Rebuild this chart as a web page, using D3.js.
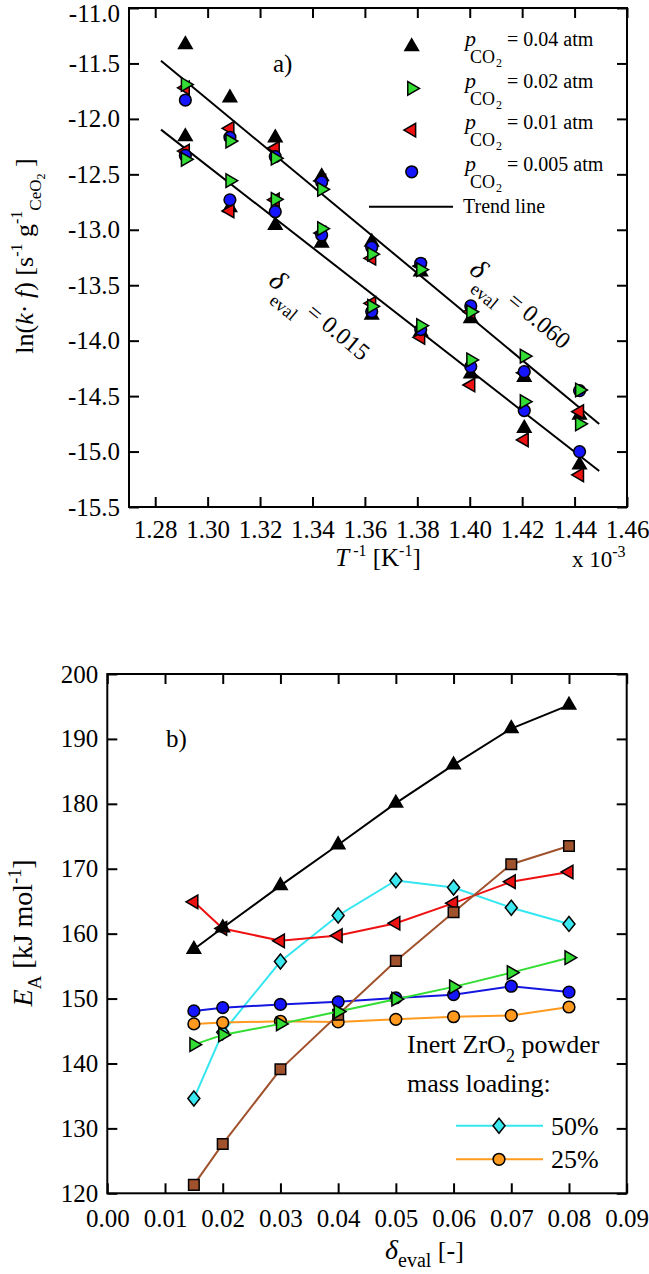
<!DOCTYPE html>
<html><head><meta charset="utf-8">
<script src="https://cdn.jsdelivr.net/npm/d3@7"></script>
<style>
body{margin:0;background:#fff}
svg{display:block}
text{font-family:"Liberation Serif","Times New Roman",serif;fill:#000}
</style>
</head><body>
<svg id="c" width="649" height="1274"></svg>
<script>
// ---------- Panel a data ----------
const invT = [1.2915, 1.3085, 1.3258, 1.3435, 1.3626, 1.3813, 1.4004, 1.4208, 1.4419]; // x 10^-3 K^-1
const pco2Labels = ["0.04", "0.02", "0.01", "0.005"];
// delta_eval = 0.060 (upper group)
const p004_d060 = [-11.33, -11.81, -12.17, -12.52, -13.11, -13.38, -13.80, -14.33, -14.67];
const p002_d060 = [-11.69, -12.20, -12.355, -12.635, -13.22, -13.36, -13.74, -14.14, -14.445];
const p001_d060 = [-11.72, -12.085, -12.265, -12.56, -13.257, -13.327, -13.74, -14.29, -14.64];
const p0005_d060 = [-11.83, -12.166, -12.34, -12.57, -13.158, -13.302, -13.687, -14.28, -14.45];
// delta_eval = 0.015 (lower group)
const p004_d015 = [-12.16, -12.80, -12.96, -13.12, -13.77, -13.92, -14.30, -14.79, -15.12];
const p002_d015 = [-12.365, -12.557, -12.725, -12.99, -13.69, -13.865, -14.174, -14.55, -14.75];
const p001_d015 = [-12.29, -12.83, -12.73, -13.03, -13.663, -13.97, -14.40, -14.895, -15.21];
const p0005_d015 = [-12.33, -12.73, -12.837, -13.047, -13.738, -13.90, -14.234, -14.63, -15.00];
// trend lines (endpoints)
const trendX = [1.2822, 1.4494];
const trend060 = [-11.475, -14.751];
const trend015 = [-12.097, -15.175];
const aXTicks = [1.28, 1.30, 1.32, 1.34, 1.36, 1.38, 1.40, 1.42, 1.44, 1.46];
const aYTicks = [-11.0, -11.5, -12.0, -12.5, -13.0, -13.5, -14.0, -14.5, -15.0, -15.5];

// ---------- Panel b data ----------
const deltaEval = [0.015, 0.02, 0.03, 0.04, 0.05, 0.06, 0.07, 0.08];
const EA_p004 = [157.6, 160.9, 167.4, 173.7, 180.1, 186.0, 191.6, 195.2];
const EA_p001 = [164.9, 160.8, 158.9, 159.7, 161.6, 164.7, 168.0, 169.5];
const EA_zr50 = [134.6, 144.8, 155.7, 162.8, 168.2, 167.1, 164.0, 161.5];
const EA_brown = [121.3, 127.6, 139.1, 147.5, 155.8, 163.3, 170.7, 173.5];
const EA_zr25 = [146.1, 146.3, 146.5, 146.4, 146.8, 147.2, 147.4, 148.7];
const EA_p0005 = [148.1, 148.6, 149.1, 149.5, 150.1, 150.6, 151.9, 151.0];
const EA_p002 = [142.9, 144.4, 146.1, 148.0, 149.9, 151.8, 154.0, 156.3];
const bXTicks = [0, 0.01, 0.02, 0.03, 0.04, 0.05, 0.06, 0.07, 0.08, 0.09];
const bYTicks = [120, 130, 140, 150, 160, 170, 180, 190, 200];

const svg = d3.select("#c");
const SERIF = '"Liberation Serif","Times New Roman",serif';

function markerPath(type) {
  if (type === "up" || type === "left" || type === "right") return d3.symbol(d3.symbolTriangle, 80)();
  if (type === "circle") return d3.symbol(d3.symbolCircle, 108)();
  if (type === "square") return d3.symbol(d3.symbolSquare, 112)();
  if (type === "diamond") return "M0,-7.5L6,0L0,7.5L-6,0Z";
}
function markerRot(type) {
  return type === "right" ? 90 : type === "left" ? -90 : 0;
}
function drawMarker(g, type, fill, cx, cy) {
  g.append("path").attr("d", markerPath(type))
    .attr("transform", `translate(${cx},${cy}) rotate(${markerRot(type)})`)
    .attr("fill", fill).attr("stroke", "#000").attr("stroke-width", 1.5);
}

function drawAxes(g, x, y, W, H, xTicks, yTicks, xFmt, yFmt, xPad) {
  const ax = [];
  ax.push(g.append("g").attr("transform", `translate(0,${H})`)
    .call(d3.axisBottom(x).tickValues(xTicks).tickFormat(xFmt).tickSize(-10).tickPadding(xPad)));
  ax.push(g.append("g").call(d3.axisTop(x).tickValues(xTicks).tickFormat("").tickSize(-10)));
  const left = g.append("g").call(d3.axisLeft(y).tickValues(yTicks).tickFormat(yFmt).tickSize(-10).tickPadding(9));
  ax.push(left);
  ax.push(g.append("g").attr("transform", `translate(${W},0)`)
    .call(d3.axisRight(y).tickValues(yTicks).tickFormat("").tickSize(-10)));
  ax.forEach(a => {
    a.select(".domain").remove();
    a.attr("font-family", SERIF).attr("font-size", 25);
    a.selectAll(".tick line").attr("stroke", "#000").attr("stroke-width", 2);
    a.selectAll(".tick text").attr("fill", "#000");
  });
  g.append("rect").attr("x", 0).attr("y", 0).attr("width", W).attr("height", H)
    .attr("fill", "none").attr("stroke", "#000").attr("stroke-width", 2);
  return left;
}

// ================= Panel a =================
(function () {
  const L = 129, T = 8, W = 498, H = 499;
  const g = svg.append("g").attr("transform", `translate(${L},${T})`);
  const x = d3.scaleLinear().domain([1.27, 1.46]).range([0, W]);
  const y = d3.scaleLinear().domain([-11, -15.5]).range([0, H]);
  const left = drawAxes(g, x, y, W, H, aXTicks, aYTicks, d => d.toFixed(2), d => d.toFixed(1), 13);
  // top label nudged down to stay inside the picture
  left.selectAll(".tick text").filter(d => d === -11).attr("y", 5);

  // trend lines
  const line = d3.line().x(d => x(d[0])).y(d => y(d[1]));
  [trend060, trend015].forEach(tr => {
    g.append("path").attr("d", line(trendX.map((v, i) => [v, tr[i]])))
      .attr("fill", "none").attr("stroke", "#000").attr("stroke-width", 2);
  });

  const series = [
    { type: "up", fill: "#000000", vals: [p004_d060, p004_d015] },
    { type: "left", fill: "#ee1111", vals: [p001_d060, p001_d015] },
    { type: "circle", fill: "#1515ff", vals: [p0005_d060, p0005_d015] },
    { type: "right", fill: "#33dd33", vals: [p002_d060, p002_d015] }
  ];
  series.forEach(s => {
    s.vals.forEach(arr => {
      arr.forEach((v, i) => drawMarker(g, s.type, s.fill, x(invT[i]), y(v)));
    });
  });

  // annotations along trend lines
  const ang = Math.atan2(y(trend060[1]) - y(trend060[0]), x(trendX[1]) - x(trendX[0])) * 180 / Math.PI;
  const annos = [
    { dx: 1.3993, dy: -13.38, val: "0.060" },
    { dx: 1.3227, dy: -13.483, val: "0.015" }
  ];
  annos.forEach(a => {
    const t = g.append("text")
      .attr("transform", `translate(${x(a.dx)},${y(a.dy)}) rotate(${ang})`)
      .attr("font-size", 24);
    t.append("tspan").attr("font-style", "italic").attr("font-size", 28).text("δ");
    t.append("tspan").attr("font-size", 18).attr("dy", 14).text("eval");
    t.append("tspan").attr("dy", -14).attr("dx", 6).text("= " + a.val);
  });

  g.append("text").attr("x", 273 - L).attr("y", 72 - T).attr("font-size", 25).text("a)");
})();

// legend a
(function () {
  const types = ["up", "right", "left", "circle"];
  const fills = ["#000000", "#33dd33", "#ee1111", "#1515ff"];
  pco2Labels.forEach((lab, i) => {
    const cy = 46.7 + i * 41.7;
    drawMarker(svg, types[i], fills[i], 411.7, cy);
    const by = 46 + i * 41.7;
    const t = svg.append("text").attr("x", 465).attr("y", by).attr("font-size", 20);
    t.append("tspan").attr("font-size", 22).attr("font-style", "italic").text("p");
    t.append("tspan").attr("font-size", 18).attr("dx", -6).attr("dy", 17).text("CO");
    t.append("tspan").attr("font-size", 12).attr("dx", 1).attr("dy", 4).text("2");
    t.append("tspan").attr("x", 507).attr("dy", -21).text("= " + lab + " atm");
  });
  svg.append("line").attr("x1", 369).attr("x2", 453).attr("y1", 206.7).attr("y2", 206.7)
    .attr("stroke", "#000").attr("stroke-width", 2);
  svg.append("text").attr("x", 463).attr("y", 213).attr("font-size", 20).text("Trend line");
})();

// axis titles a
(function () {
  const t = svg.append("text").attr("x", 378).attr("y", 566).attr("font-size", 25).attr("text-anchor", "middle");
  t.append("tspan").attr("font-style", "italic").text("T");
  t.append("tspan").attr("font-size", 16).attr("dy", -10).text(" -1");
  t.append("tspan").attr("dy", 10).text(" [K");
  t.append("tspan").attr("font-size", 16).attr("dy", -10).text("-1");
  t.append("tspan").attr("dy", 10).text("]");

  const e = svg.append("text").attr("x", 572).attr("y", 567).attr("font-size", 23);
  e.append("tspan").text("x 10");
  e.append("tspan").attr("font-size", 16).attr("dy", -10).text("-3");

  const yl = svg.append("text").attr("transform", "translate(33,256) rotate(-90)")
    .attr("text-anchor", "middle").attr("font-size", 26);
  yl.append("tspan").text("ln(");
  yl.append("tspan").attr("font-style", "italic").text("k");
  yl.append("tspan").text("· ");
  yl.append("tspan").attr("font-style", "italic").text("f");
  yl.append("tspan").text(") [s");
  yl.append("tspan").attr("font-size", 16).attr("dy", -11).text("-1");
  yl.append("tspan").attr("dy", 11).text(" g");
  yl.append("tspan").attr("font-size", 16).attr("dy", -11).text("-1");
  yl.append("tspan").attr("font-size", 17).attr("dy", 19).text("CeO");
  yl.append("tspan").attr("font-size", 12).attr("dy", 4).text("2");
  yl.append("tspan").attr("dy", -12).text(" ]");
})();

// ================= Panel b =================
(function () {
  const L = 107.3, T = 674, W = 519.4, H = 519.3;
  const g = svg.append("g").attr("transform", `translate(${L},${T})`);
  const x = d3.scaleLinear().domain([0, 0.09]).range([0, W]);
  const y = d3.scaleLinear().domain([120, 200]).range([H, 0]);
  drawAxes(g, x, y, W, H, bXTicks, bYTicks, d => d.toFixed(2), d => d3.format("d")(d), 16);

  const line = d3.line().x((d, i) => x(deltaEval[i])).y(d => y(d));
  const series = [
    { vals: EA_zr50, type: "diamond", fill: "#3ce8f0", stroke: "#33e6f0" },
    { vals: EA_zr25, type: "circle", fill: "#ff9a1e", stroke: "#ff9a1e" },
    { vals: EA_p0005, type: "circle", fill: "#1515ff", stroke: "#1515e0" },
    { vals: EA_p001, type: "left", fill: "#ee1111", stroke: "#ee1111" },
    { vals: EA_brown, type: "square", fill: "#a0522d", stroke: "#a0522d" },
    { vals: EA_p004, type: "up", fill: "#000000", stroke: "#000000" },
    { vals: EA_p002, type: "right", fill: "#33dd33", stroke: "#33dd33" }
  ];
  series.forEach(s => {
    g.append("path").attr("d", line(s.vals)).attr("fill", "none")
      .attr("stroke", s.stroke).attr("stroke-width", 2);
    s.vals.forEach((v, i) => drawMarker(g, s.type, s.fill, x(deltaEval[i]), y(v)));
  });

  g.append("text").attr("x", 166 - L).attr("y", 747 - T).attr("font-size", 25).text("b)");
})();

// legend b
(function () {
  const t1 = svg.append("text").attr("x", 407).attr("y", 1053).attr("font-size", 26);
  t1.append("tspan").text("Inert ZrO");
  t1.append("tspan").attr("font-size", 18).attr("dy", 9).text("2");
  t1.append("tspan").attr("dy", -9).text(" powder");
  svg.append("text").attr("x", 407).attr("y", 1092).attr("font-size", 26).text("mass loading:");
  const items = [
    { lab: "50%", type: "diamond", fill: "#3ce8f0", stroke: "#33e6f0", cy: 1125.7 },
    { lab: "25%", type: "circle", fill: "#ff9a1e", stroke: "#ff9a1e", cy: 1159.3 }
  ];
  items.forEach(it => {
    svg.append("line").attr("x1", 456).attr("x2", 543).attr("y1", it.cy).attr("y2", it.cy)
      .attr("stroke", it.stroke).attr("stroke-width", 2);
    drawMarker(svg, it.type, it.fill, 499, it.cy);
    svg.append("text").attr("x", 551).attr("y", it.cy + 9).attr("font-size", 26).text(it.lab);
  });
})();

// axis titles b
(function () {
  const xl = svg.append("text").attr("x", 385).attr("y", 1259).attr("font-size", 26);
  xl.append("tspan").attr("font-style", "italic").attr("font-size", 28).text("δ");
  xl.append("tspan").attr("font-size", 20).attr("dy", 8).text("eval");
  xl.append("tspan").attr("dy", -8).text(" [-]");

  const yl = svg.append("text").attr("transform", "translate(32,933) rotate(-90)")
    .attr("text-anchor", "middle").attr("font-size", 28);
  yl.append("tspan").attr("font-style", "italic").text("E");
  yl.append("tspan").attr("font-size", 19).attr("dy", 9).text("A");
  yl.append("tspan").attr("dy", -9).text(" [kJ mol");
  yl.append("tspan").attr("font-size", 18).attr("dy", -11).text("-1");
  yl.append("tspan").attr("dy", 11).text("]");
})();
</script>
</body></html>
